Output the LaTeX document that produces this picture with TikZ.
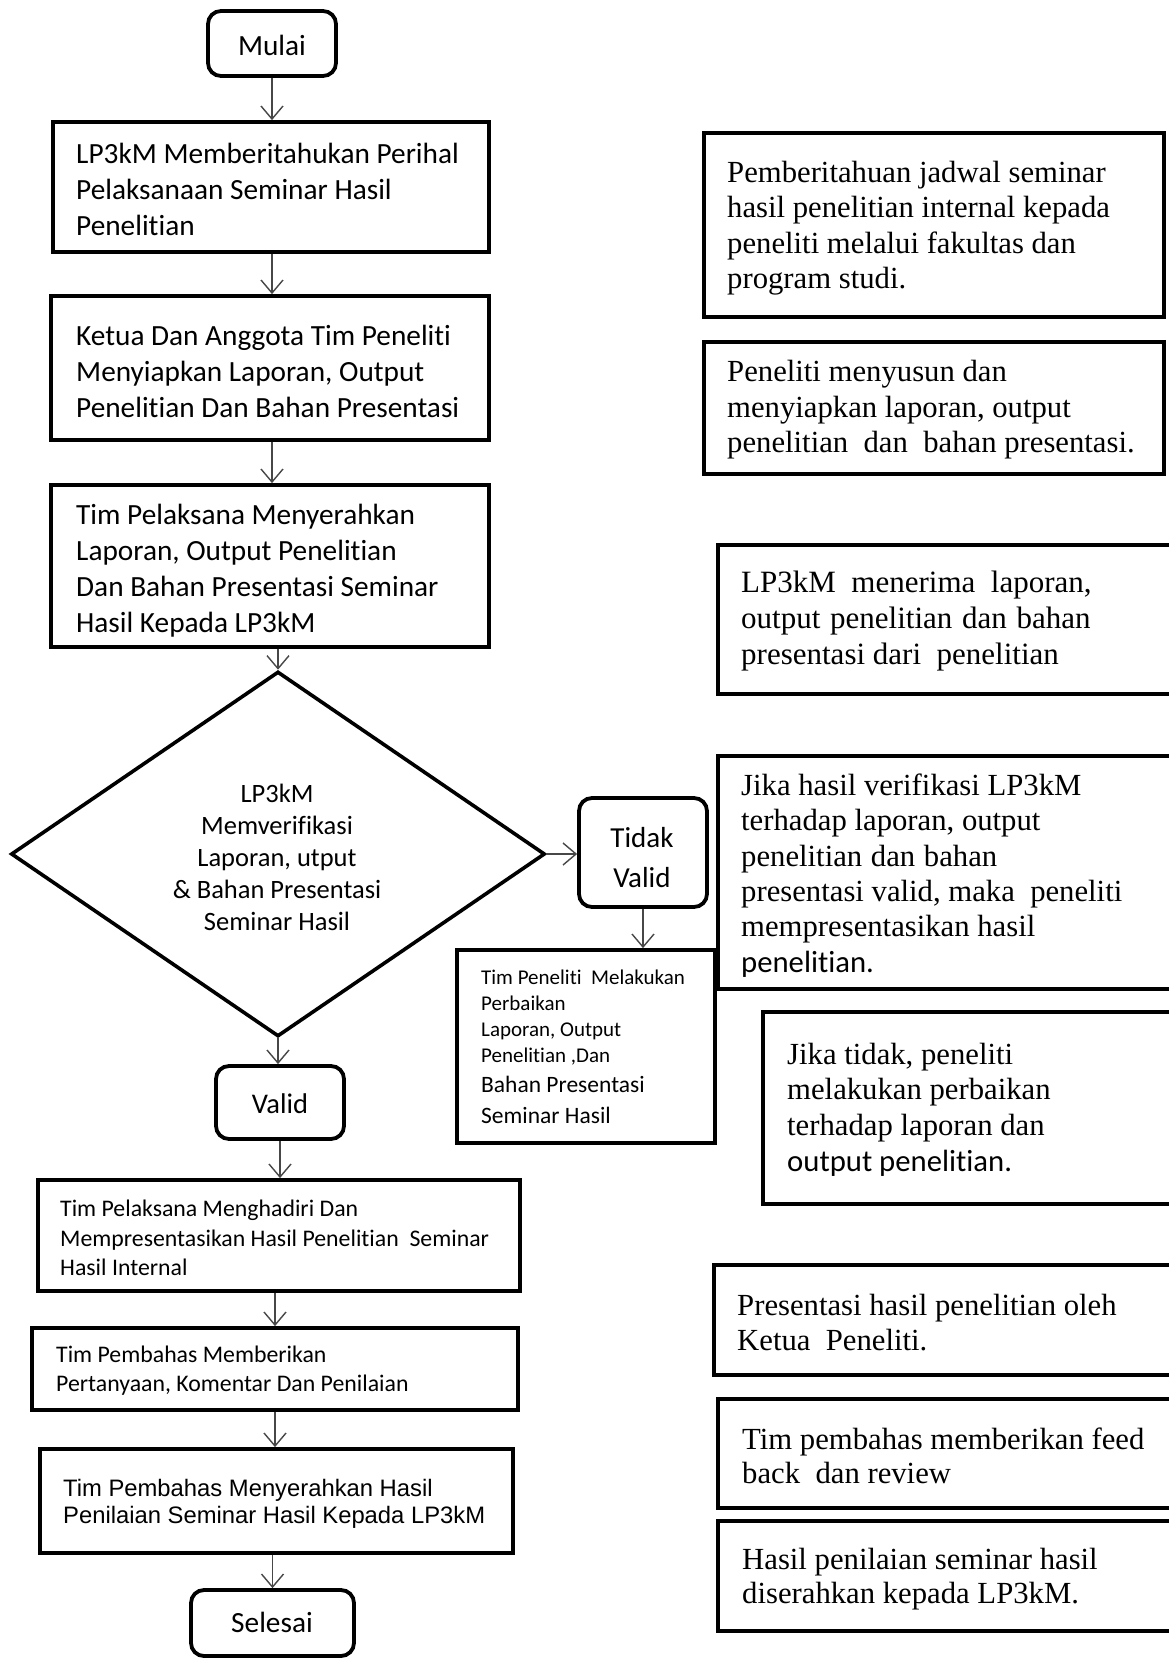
\documentclass[tikz,border=0pt]{standalone}
\usepackage{fontspec}
\setmainfont{Liberation Serif}
\newfontfamily\calibrif[Ligatures={NoCommon,NoRare,NoContextual},Contextuals=NoAlternate]{Carlito}
\newfontfamily\arialf{Liberation Sans}
\usetikzlibrary{arrows.meta,shapes.geometric}

\begin{document}
\begin{tikzpicture}[x=1pt,y=-1pt,
  frame/.style={draw, line width=3.8pt, rectangle, inner sep=0pt},
  term/.style={frame, rounded corners=13pt},
  arr/.style={draw=black!72, line width=1.4pt, -{Straight Barb[length=13pt,width=22pt]}},
  txt/.style={anchor=west, align=left, inner sep=0pt},
  cal/.style={font=\calibrif\fontsize{29.3}{36}\selectfont},
  tnr/.style={font=\fontsize{30.7}{35.5}\selectfont},
]
\clip (0,0) rectangle (1169,1659);
\fill[white] (0,0) rectangle (1169,1659);

% ---------- main flow (left column) ----------
\node[term, minimum width=128pt, minimum height=65pt] (mul) at (272,43.5) {};
\node[cal, inner sep=0pt] (tmul) at (272,45.5) {Mulai};

\node[frame, minimum width=436pt, minimum height=130pt] (b1) at (271,187) {};
\node[txt, cal] (t1) at (76,189) {LP3kM Memberitahukan Perihal\\ Pelaksanaan Seminar Hasil\\ Penelitian};

\node[frame, minimum width=438pt, minimum height=144pt] (b2) at (270,368) {};
\node[txt, cal] (t2) at (76,371) {Ketua Dan Anggota Tim Peneliti\\ Menyiapkan Laporan, Output\\ Penelitian Dan Bahan Presentasi};

\node[frame, minimum width=438pt, minimum height=162pt] (b3) at (270,566) {};
\node[txt, cal] (t3) at (76,571) {Tim Pelaksana Menyerahkan\\ Laporan, Output Penelitian\\ Dan Bahan Presentasi Seminar\\ Hasil Kepada LP3kM};

\node[draw, diamond, line width=3.6pt, minimum width=534pt, minimum height=365pt, inner sep=0pt] (dia) at (278,854) {};
\node[align=center, inner sep=0pt, font=\calibrif\fontsize{26.5}{32}\selectfont] (tdia) at (277,857) {LP3kM\\ Memverifikasi\\ Laporan, utput\\ \& Bahan Presentasi\\ Seminar Hasil};

\node[term, minimum width=128pt, minimum height=109pt] (tv) at (643,852.5) {};
\node[align=center, inner sep=0pt, font=\calibrif\fontsize{29}{40}\selectfont] (ttv) at (642,858) {Tidak\\ Valid};

\node[frame, minimum width=258pt, minimum height=193pt] (pb) at (586,1046.5) {};
\node[txt, font=\calibrif\fontsize{21}{26}\selectfont] (tpa) at (481,1018) {Tim Peneliti\ \ Melakukan\\ Perbaikan\\ Laporan, Output\\ Penelitian ,Dan};
\node[txt, font=\calibrif\fontsize{23.5}{31}\selectfont] (tpb) at (481,1100) {Bahan Presentasi\\ Seminar Hasil};

\node[term, minimum width=128pt, minimum height=73pt] (val) at (280,1102.5) {};
\node[font=\calibrif\fontsize{28.5}{34}\selectfont, inner sep=0pt] (tval) at (280,1104) {Valid};

\node[frame, minimum width=482pt, minimum height=111pt] (b17) at (279,1235.5) {};
\node[txt, font=\calibrif\fontsize{23.8}{29.5}\selectfont] (t17) at (60,1238) {Tim Pelaksana Menghadiri Dan\\ Mempresentasikan Hasil Penelitian\ \ Seminar\\ Hasil Internal};

\node[frame, minimum width=486pt, minimum height=82pt] (b19) at (275,1369) {};
\node[txt, font=\calibrif\fontsize{23.8}{29}\selectfont] (t19) at (56,1370.5) {Tim Pembahas Memberikan\\ Pertanyaan, Komentar Dan Penilaian};

\node[frame, minimum width=473pt, minimum height=104pt] (b21) at (276.5,1501) {};
\node[txt, font=\arialf\fontsize{23.8}{27}\selectfont] (t21) at (63,1503.5) {Tim Pembahas Menyerahkan Hasil\\ Penilaian Seminar Hasil Kepada LP3kM};

\node[term, minimum width=163pt, minimum height=66pt] (sel) at (272.5,1623) {};
\node[font=\calibrif\fontsize{29.3}{34}\selectfont, inner sep=0pt] (tsel) at (272,1622) {Selesai};

% ---------- connectors ----------
\draw[arr] (mul.south) -- (mul.south |- b1.north);
\draw[arr] (b1.south -| mul) -- (b2.north -| mul);
\draw[arr] (b2.south -| mul) -- (b3.north -| mul);
\draw[arr] (b3.south -| dia) -- (dia.north);
\draw[arr] (dia.east) -- (dia.east -| tv.west);
\draw[arr] (tv.south) -- (tv.south |- pb.north);
\draw[arr] (dia.south) -- (dia.south |- val.north);
\draw[arr] (val.south) -- (val.south |- b17.north);
\draw[arr] (b17.south -| b19) -- (b19.north);
\draw[arr] (b19.south) -- (b19.south |- b21.north);
\draw[arr] (b21.south -| sel) -- (sel.north);

% ---------- descriptions (right column) ----------
\node[frame, minimum width=460pt, minimum height=184pt] (r1) at (934,225) {};
\node[txt, tnr] (tr1) at (727,228) {Pemberitahuan jadwal seminar\\ hasil penelitian internal kepada\\ peneliti melalui fakultas dan\\ program studi.};

\node[frame, minimum width=460pt, minimum height=132pt] (r2) at (934,408) {};
\node[txt, tnr] (tr2) at (727,410) {Peneliti menyusun dan\\ menyiapkan laporan, output\\ penelitian\ \ dan\ \ bahan presentasi.};

\node[frame, minimum width=472pt, minimum height=149pt] (r3) at (954,619.5) {};
\node[txt, font=\fontsize{31}{36}\selectfont] (tr3) at (741,621) {LP3kM\ \ menerima\ \ laporan,\\ output\hspace{2pt} penelitian\hspace{2pt} dan\hspace{2pt} bahan\\ presentasi dari\ \ penelitian};

\node[frame, minimum width=472pt, minimum height=233pt] (r4) at (954,872.5) {};
\node[txt, font=\fontsize{30.7}{35.4}\selectfont] (tr4) at (741,875.5) {Jika hasil verifikasi LP3kM\\ terhadap laporan, output\\ penelitian\hspace{1pt} dan\hspace{1pt} bahan\\ presentasi valid, maka\ \ peneliti\\ mempresentasikan hasil\\ {\calibrif penelitian.}};

\node[frame, minimum width=427pt, minimum height=192pt] (r5) at (976.5,1108) {};
\node[txt, font=\fontsize{30.7}{35.7}\selectfont] (tr5) at (787,1109.5) {Jika tidak, peneliti\\ melakukan perbaikan\\ terhadap laporan dan\\ {\calibrif output penelitian.}};

\node[frame, minimum width=476pt, minimum height=110pt] (r6) at (952,1320) {};
\node[txt, tnr] (tr6) at (737,1322.5) {Presentasi hasil penelitian oleh\\ Ketua\ \ Peneliti.};

\node[frame, minimum width=472pt, minimum height=109pt] (r7) at (954,1453.5) {};
\node[txt, font=\fontsize{30.7}{34}\selectfont] (tr7) at (742,1456) {Tim pembahas memberikan feed\\ back\ \ dan review};

\node[frame, minimum width=472pt, minimum height=110pt] (r8) at (954,1576) {};
\node[txt, font=\fontsize{30.7}{34}\selectfont] (tr8) at (742,1579) {Hasil penilaian seminar hasil\\ diserahkan kepada LP3kM.};
\end{tikzpicture}
\end{document}
